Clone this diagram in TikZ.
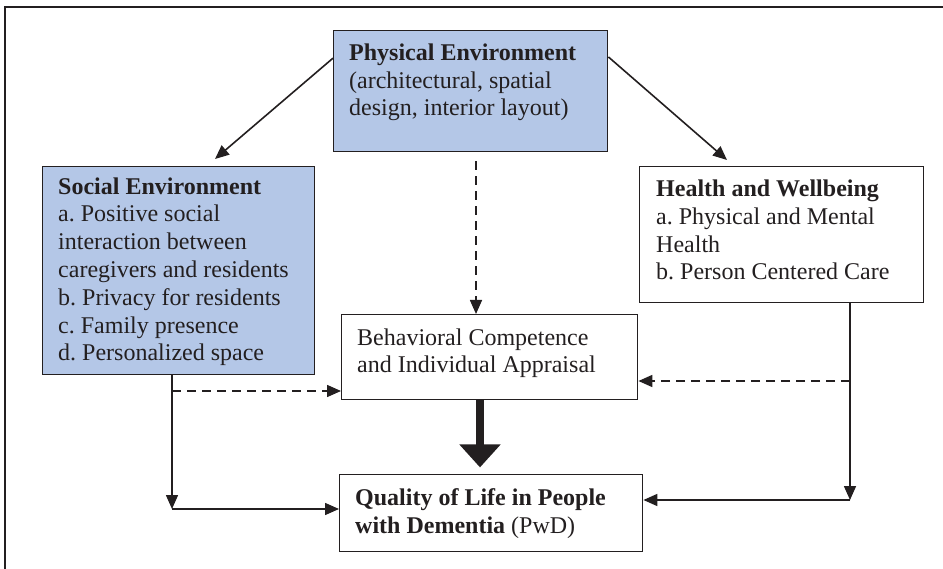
\documentclass[tikz,border=0pt]{standalone}
\usepackage{fontspec}
\setmainfont{Liberation Serif}
\usetikzlibrary{arrows.meta,calc}
\definecolor{boxblue}{RGB}{180,199,231}
\definecolor{ink}{RGB}{35,31,32}
\frenchspacing
\begin{document}
\begin{tikzpicture}[x=1pt,y=-1pt,
  box/.style={draw=ink, line width=1.4pt, anchor=north west, inner sep=0pt},
  bluebox/.style={box, fill=boxblue},
  txt/.style={anchor=base west, inner sep=0pt, align=left, text=ink,
    font=\fontsize{24}{27.8}\selectfont},
  conn/.style={draw=ink, line width=1.6pt, -{Triangle[length=14pt,width=12pt]}},
  dconn/.style={conn, dash pattern=on 9pt off 6pt},
  frame/.style={draw=ink, line width=1.5pt}]
\useasboundingbox (0,0) rectangle (943,569);
% outer frame (top and left edges visible)
\coordinate (fr1) at (943,7);
\coordinate (fr2) at (5,7);
\coordinate (fr3) at (5,569);
\draw[frame] (fr1) -- (fr2) -- (fr3);

% boxes
\node[bluebox, minimum width=274pt, minimum height=121pt] (phys) at (333,30) {};
\node[bluebox, minimum width=272pt, minimum height=208pt] (soc) at (42,166) {};
\node[box, minimum width=284pt, minimum height=136pt] (health) at (639,166) {};
\node[box, minimum width=296pt, minimum height=85pt] (behav) at (341,314) {};
\node[box, minimum width=303pt, minimum height=77pt] (qual) at (339,474) {};

% texts (anchored at the baseline of their last line)
\node[txt] (physT) at (349,116) {\textbf{Physical Environment}\\(architectural, spatial\\design, interior layout)};
\node[txt] (socT) at (58,361) {\textbf{Social Environment}\\a. Positive social\\interaction between\\caregivers and residents\\b. Privacy for residents\\c. Family presence\\d. Personalized space};
\node[txt] (healthT) at (656,280) {\textbf{Health and Wellbeing}\\a. Physical and Mental\\Health\\b. Person Centered Care};
\node[txt] (behavT) at (357,373) {Behavioral Competence\\and Individual Appraisal};
\node[txt] (qualT) at (355,533) {\textbf{Quality of Life in People}\\\textbf{with Dementia} (PwD)};

% connectors from physical environment
\draw[conn] ($(phys.north west)!0.23!(phys.south west)$) -- ($(soc.north west)+(173,-7)$);
\draw[conn] ($(phys.north east)!0.22!(phys.south east)$) -- ($(health.north west)+(88,-6)$);
\draw[dconn] ($(phys.south west)+(143,9)$) -- ($(behav.north west)+(135,0)$);

% social environment connectors
\coordinate (sj) at (172,509);
\coordinate (sd) at (172,391);
\draw[conn] ($(soc.south west)+(130,0)$) -- (sj);
\draw[conn] (sj) -- (sj -| qual.west);
\draw[dconn] (sd) -- (sd -| behav.west);

% health connectors
\coordinate (hj) at (850,500);
\coordinate (hd) at (850,381);
\draw[conn] (health.south west -| hj) -- (hj);
\draw[conn] (hj) -- (hj -| qual.east);
\draw[dconn] (hd) -- (hd -| behav.east);

% thick arrow
\draw[draw=ink, line width=8pt, -{Triangle[length=23pt,width=40pt]}] ($(behav.south west)+(139,0)$) -- ($(behav.south west)+(139,67)$);
\end{tikzpicture}
\end{document}
